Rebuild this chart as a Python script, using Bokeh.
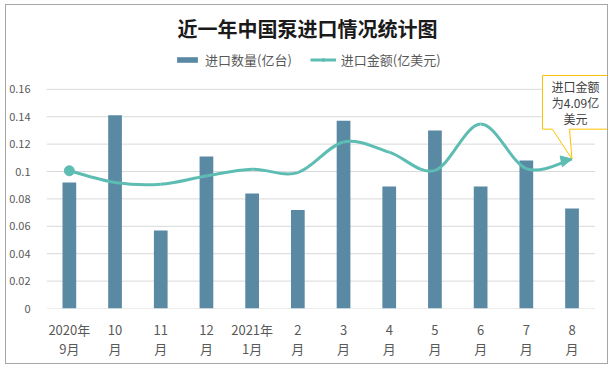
from bokeh.plotting import figure
from bokeh.models import (Range1d, FixedTicker, NumeralTickFormatter, Legend, LegendItem,
                          Arrow, NormalHead, Title)
from bokeh.core.properties import value
from bokeh.embed import file_html
from bokeh.resources import INLINE

# ---------------- data ----------------
months = ["2020年\n9月", "10\n月", "11\n月", "12\n月", "2021年\n1月", "2\n月",
          "3\n月", "4\n月", "5\n月", "6\n月", "7\n月", "8\n月"]
qty = [0.092, 0.141, 0.057, 0.111, 0.084, 0.072, 0.137, 0.089, 0.130, 0.089, 0.108, 0.073]   # 进口数量(亿台)
amt = [3.77, 3.45, 3.40, 3.63, 3.81, 3.72, 4.56, 4.28, 3.78, 5.05, 3.83, 4.09]                # 进口金额(亿美元)
yticks = [0, 0.02, 0.04, 0.06, 0.08, 0.10, 0.12, 0.14, 0.16]
amt_axis_max = 6.0   # hidden secondary axis max, aligned with 0.16

# ---------------- style ----------------
FONT = "Noto Sans CJK SC"
BAR = "#5a89a4"
TEAL = "#5dbdb3"
GRID = "#d9d9d9"
TXT = "#595959"

xs = list(range(len(months)))
frame_h, grid_h = 261, 220
ymax = yticks[-1] * frame_h / grid_h
amax = amt_axis_max * frame_h / grid_h

p = figure(width=603, height=360, output_backend="svg", toolbar_location=None,
           x_range=Range1d(-0.5, 11.82), y_range=Range1d(0, ymax),
           min_border_left=40, min_border_right=0, min_border_top=42, min_border_bottom=57,
           styles={"border": "1px solid #a6a6a6", "margin-left": "5px", "margin-top": "4px"})
p.extra_y_ranges = {"amt": Range1d(0, amax)}
p.outline_line_color = None
p.background_fill_color = "white"
p.border_fill_color = "white"
p.xgrid.visible = False
p.ygrid.visible = False

# title
p.add_layout(Title(text="近一年中国泵进口情况统计图", text_font=FONT, text_font_size="20px",
                   text_font_style="bold", text_color="#1a1a1a", align="left",
                   offset=131, standoff=12), "above")

# gridlines
p.segment(x0=[-0.5] * len(yticks), x1=[11.5] * len(yticks), y0=yticks, y1=yticks,
          line_color=GRID, line_width=1)

# bars
bars = p.vbar(x=xs, top=qty, width=0.3, fill_color=BAR, line_color=None)

# smooth curve (Catmull-Rom -> cubic bezier)
P = list(zip(xs, amt))
n = len(P)
bx0, by0, bx1, by1, cx0, cy0, cx1, cy1 = ([] for _ in range(8))
for i in range(n - 1):
    pm = P[i - 1] if i > 0 else P[i]
    p0, p1 = P[i], P[i + 1]
    p2 = P[i + 2] if i + 2 < n else P[i + 1]
    bx0.append(p0[0]); by0.append(p0[1]); bx1.append(p1[0]); by1.append(p1[1])
    cx0.append(p0[0] + (p1[0] - pm[0]) / 6); cy0.append(p0[1] + (p1[1] - pm[1]) / 6)
    cx1.append(p1[0] - (p2[0] - p0[0]) / 6); cy1.append(p1[1] - (p2[1] - p0[1]) / 6)
curve = p.bezier(x0=bx0, y0=by0, x1=bx1, y1=by1, cx0=cx0, cy0=cy0, cx1=cx1, cy1=cy1,
                 line_color=TEAL, line_width=3, y_range_name="amt")
dot = p.scatter(x=[xs[0]], y=[amt[0]], size=10, fill_color=TEAL, line_color=TEAL,
                y_range_name="amt")
p.add_layout(Arrow(end=NormalHead(size=11, fill_color=TEAL, line_color=TEAL),
                   x_start=cx1[-1], y_start=cy1[-1], x_end=xs[-1], y_end=amt[-1],
                   line_alpha=0, y_range_name="amt"))

# callout
lx, ly = xs[-1], amt[-1]
box_l, box_r, base_a, base_b = -0.646, 0.80, -0.43, -0.055
box_b, box_t = 0.82, 2.29
p.patch(x=[lx + box_l, lx + base_a, lx, lx + base_b, lx + box_r, lx + box_r, lx + box_l],
        y=[ly + box_b, ly + box_b, ly, ly + box_b, ly + box_b, ly + box_t, ly + box_t],
        fill_color="white", line_color="#ffc000", line_width=1, y_range_name="amt")
p.text(x=[lx + 0.077], y=[ly + 1.555], text=[f"进口金额\n为{amt[-1]:.2f}亿\n美元"],
       text_font=value(FONT), text_font_size="12px", text_color="#404040",
       text_align="center", text_baseline="middle", text_line_height=0.95,
       y_range_name="amt")

# axes
p.xaxis.ticker = FixedTicker(ticks=xs)
p.xaxis.major_label_overrides = {i: m for i, m in enumerate(months)}
p.xaxis.axis_line_color = None
p.xaxis.major_tick_line_color = None
p.xaxis.minor_tick_line_color = None
p.xaxis.major_label_text_font = FONT
p.xaxis.major_label_text_font_size = "13px"
p.xaxis.major_label_text_color = TXT
p.xaxis.major_label_standoff = 5
p.xaxis.major_label_text_line_height = 1.05

p.yaxis.ticker = FixedTicker(ticks=yticks)
p.yaxis.formatter = NumeralTickFormatter(format="0.[00]")
p.yaxis.axis_line_color = None
p.yaxis.major_tick_line_color = None
p.yaxis.minor_tick_line_color = None
p.yaxis.major_label_text_font = FONT
p.yaxis.major_label_text_font_size = "11px"
p.yaxis.major_label_text_color = TXT
p.yaxis.major_label_standoff = 10

# legend
legend = Legend(items=[LegendItem(label="进口数量(亿台)", renderers=[bars]),
                       LegendItem(label="进口金额(亿美元)", renderers=[curve, dot])],
                orientation="horizontal", location=(128, 239),
                glyph_width=26, glyph_height=7, label_standoff=5, spacing=18,
                padding=0, margin=0, border_line_color=None, background_fill_alpha=0,
                label_text_font=FONT, label_text_font_size="13px", label_text_color=TXT)
p.add_layout(legend)

open("out.html", "w").write(file_html(p, INLINE))
